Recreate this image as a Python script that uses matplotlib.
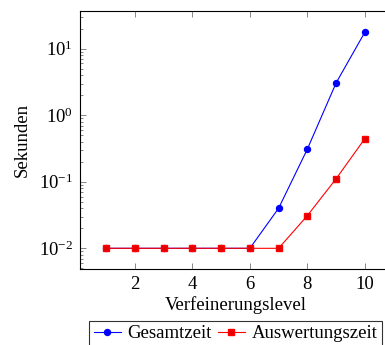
import matplotlib
matplotlib.use("Agg")
import matplotlib.pyplot as plt
from matplotlib.ticker import LogLocator, NullFormatter

# Laufzeiten je Verfeinerungslevel (Sekunden)
level = [1, 2, 3, 4, 5, 6, 7, 8, 9, 10]
gesamtzeit = [0.01, 0.01, 0.01, 0.01, 0.01, 0.01, 0.040, 0.31, 3.06, 17.7]
auswertungszeit = [0.01, 0.01, 0.01, 0.01, 0.01, 0.01, 0.01, 0.031, 0.111, 0.445]

plt.rcParams["font.family"] = ["Liberation Serif", "DejaVu Serif"]
plt.rcParams["mathtext.fontset"] = "stix"
FS = 13.5

W, H = 385, 345
fig = plt.figure(figsize=(W / 100, H / 100), dpi=100)
# axes run a little past the right border of the canvas
ax = fig.add_axes([80 / W, (H - 269) / H, 311 / W, 258 / H])

ax.plot(level, gesamtzeit, color="blue", lw=0.8, marker="o", ms=4.3,
        mfc="blue", mec="blue", label="Gesamtzeit")
ax.plot(level, auswertungszeit, color="red", lw=0.8, marker="s", ms=4.0,
        mfc="#e00000", mec="red", label="Auswertungszeit")

ax.set_yscale("log")
ax.set_xlim(0.09, 10.91)
ax.set_ylim(10 ** -2.311, 10 ** 1.567)
ax.set_xticks([2, 4, 6, 8, 10])
ax.yaxis.set_major_locator(LogLocator(base=10, numticks=10))
ax.yaxis.set_minor_locator(LogLocator(base=10, subs=range(2, 10), numticks=20))
ax.yaxis.set_minor_formatter(NullFormatter())

ax.tick_params(which="both", direction="in", top=True, right=True,
               labelsize=FS, color="0.45", width=0.6)
ax.tick_params(which="major", length=4.3, pad=5)
ax.tick_params(which="minor", length=2.2)
for sp in ax.spines.values():
    sp.set_linewidth(0.8)

ax.set_xlabel("Verfeinerungslevel", fontsize=FS, labelpad=2)
ax.set_ylabel("Sekunden", fontsize=FS, labelpad=6)

leg = ax.legend(loc="upper center", bbox_to_anchor=(0.5, -0.2), ncol=2,
                frameon=True, fancybox=False, edgecolor="black",
                fontsize=FS, handlelength=1.45, handletextpad=0.35,
                columnspacing=0.3, borderpad=0.25, borderaxespad=0)
leg.get_frame().set_linewidth(0.8)

fig.savefig("out.png", dpi=100)
